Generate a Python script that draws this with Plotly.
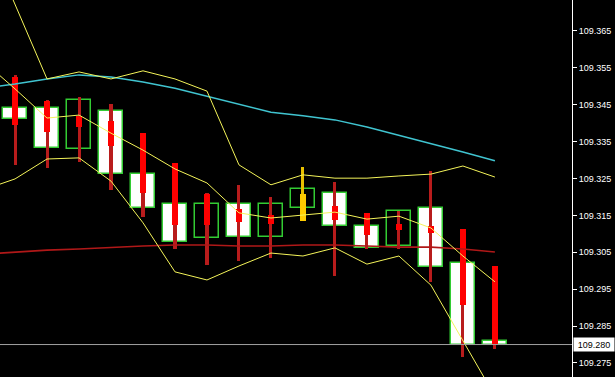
import plotly.graph_objects as go

# ---------------- data ----------------
idx = list(range(16))            # candle slots
line_idx = list(range(-1, 16))   # indicator points (first one lies left of view)

# higher-timeframe candles (open / close)
big_open = [109.3441, 109.3441, 109.3330, 109.3433, 109.3262, 109.3181, 109.3089, 109.3181,
            109.3092, 109.3170, 109.3211, 109.3121, 109.3067, 109.3170, 109.3021, 109.2810]
big_close = [109.3411, 109.3333, 109.3463, 109.3262, 109.3170, 109.3078, 109.3181, 109.3092,
             109.3181, 109.3222, 109.3121, 109.3062, 109.3162, 109.3010, 109.2800, 109.2800]

# lower-timeframe candles (OHLC)
sm_open = [109.3525, 109.3460, 109.3420, 109.3406, 109.3373, 109.3292, 109.3208, 109.3167,
           109.3151, 109.3135, 109.3176, 109.3157, 109.3127, 109.3121, 109.3113, 109.3013]
sm_high = [109.3531, 109.3463, 109.3471, 109.3452, 109.3373, 109.3292, 109.3211, 109.3233,
           109.3200, 109.3281, 109.3241, 109.3157, 109.3162, 109.3270, 109.3113, 109.3013]
sm_low = [109.3287, 109.3279, 109.3295, 109.3219, 109.3146, 109.3059, 109.3016, 109.3026,
          109.3035, 109.3135, 109.2986, 109.3059, 109.3059, 109.2970, 109.2766, 109.2788]
sm_close = [109.3395, 109.3376, 109.3390, 109.3338, 109.3211, 109.3124, 109.3124, 109.3132,
            109.3127, 109.3208, 109.3138, 109.3097, 109.3111, 109.3102, 109.2907, 109.2800]

# indicators
bb_upper = [109.3924, 109.3720, 109.3520, 109.3539, 109.3520, 109.3542, 109.3520, 109.3487, 109.3287,
            109.3233, 109.3260, 109.3251, 109.3251, 109.3257, 109.3262, 109.3284, 109.3254]
bb_mid = [109.3569, 109.3493, 109.3414, 109.3422, 109.3373, 109.3327, 109.3276, 109.3238, 109.3157,
          109.3143, 109.3151, 109.3159, 109.3140, 109.3148, 109.3116, 109.3040, 109.2970]
bb_lower = [109.3219, 109.3249, 109.3303, 109.3306, 109.3243, 109.3130, 109.2997, 109.2975, 109.3013,
            109.3048, 109.3040, 109.3062, 109.3018, 109.3040, 109.2961, 109.2810, 109.2660]
ma_cyan = [109.3495, 109.3506, 109.3520, 109.3531, 109.3525, 109.3512, 109.3495, 109.3474, 109.3452,
           109.3430, 109.3420, 109.3409, 109.3390, 109.3368, 109.3346, 109.3322, 109.3298]
ma_red = [109.3045, 109.3051, 109.3056, 109.3059, 109.3064, 109.3067, 109.3070, 109.3070, 109.3067,
          109.3067, 109.3070, 109.3070, 109.3067, 109.3064, 109.3064, 109.3059, 109.3051]

y_range = [109.2712, 109.3734]
tick_start = 109.275
tick_step = 0.01

# ---------------- figure ----------------
fig = go.Figure()

GREEN = "#33cc33"

# big boxes: bearish (white) and bullish (black, green outline)
dn_x = [i for i in idx if big_close[i] < big_open[i]]
up_x = [i for i in idx if big_close[i] >= big_open[i]]
for xs, fill in ((dn_x, "#ffffff"), (up_x, "#000000")):
    fig.add_trace(go.Bar(
        x=xs,
        base=[min(big_open[i], big_close[i]) for i in xs],
        y=[abs(big_close[i] - big_open[i]) for i in xs],
        width=0.76,
        marker=dict(color=fill, line=dict(color=GREEN, width=1.5)),
        hoverinfo="skip", showlegend=False))

# small candle wicks
sm_up = [sm_close[i] >= sm_open[i] for i in idx]
fig.add_trace(go.Bar(
    x=idx, base=sm_low, y=[sm_high[i] - sm_low[i] for i in idx],
    width=0.095,
    marker=dict(color=["#e8c000" if u else "#b81c1c" for u in sm_up], line=dict(width=0)),
    hoverinfo="skip", showlegend=False))
# small candle bodies
fig.add_trace(go.Bar(
    x=idx, base=[min(sm_open[i], sm_close[i]) for i in idx],
    y=[abs(sm_close[i] - sm_open[i]) for i in idx],
    width=0.185,
    marker=dict(color=["#ffcc00" if u else "#ff0000" for u in sm_up], line=dict(width=0)),
    hoverinfo="skip", showlegend=False))

# indicator lines
for ys, col, w in ((ma_red, "#b01818", 1.6), (ma_cyan, "#40c4d0", 1.5),
                   (bb_upper, "#f4f45a", 1.0), (bb_mid, "#f4f45a", 1.0), (bb_lower, "#f4f45a", 1.0)):
    fig.add_trace(go.Scatter(x=line_idx, y=ys, mode="lines",
                             line=dict(color=col, width=w),
                             hoverinfo="skip", showlegend=False))

last_price = big_close[-1]
fig.add_shape(type="line", xref="paper", x0=0, x1=1, yref="y", y0=last_price, y1=last_price,
              line=dict(color="#a0a0a0", width=1), layer="above")
fig.add_annotation(xref="paper", x=1, xanchor="left", xshift=1, yref="y", y=last_price,
                   text=f"{last_price:.3f}", showarrow=False, bgcolor="#ffffff",
                   font=dict(color="#000000", size=9, family="Liberation Sans"),
                   width=40, height=13, align="center", borderpad=0)

fig.update_layout(
    width=615, height=377,
    margin=dict(l=0, r=43, t=0, b=0),
    paper_bgcolor="#000000", plot_bgcolor="#000000",
    barmode="overlay", bargap=0,
    font=dict(family="Liberation Sans", size=9, color="#ffffff"),
    xaxis=dict(range=[-0.47, 17.41], visible=False, fixedrange=True),
    yaxis=dict(side="right", range=y_range, tick0=tick_start, dtick=tick_step,
               tickformat=".3f", showgrid=False, zeroline=False,
               showline=True, linecolor="#ffffff", linewidth=1,
               ticks="outside", ticklen=4, tickcolor="#ffffff", tickwidth=1,
               tickfont=dict(color="#ffffff", size=9, family="Liberation Sans")),
)

fig.write_html("out.html")
